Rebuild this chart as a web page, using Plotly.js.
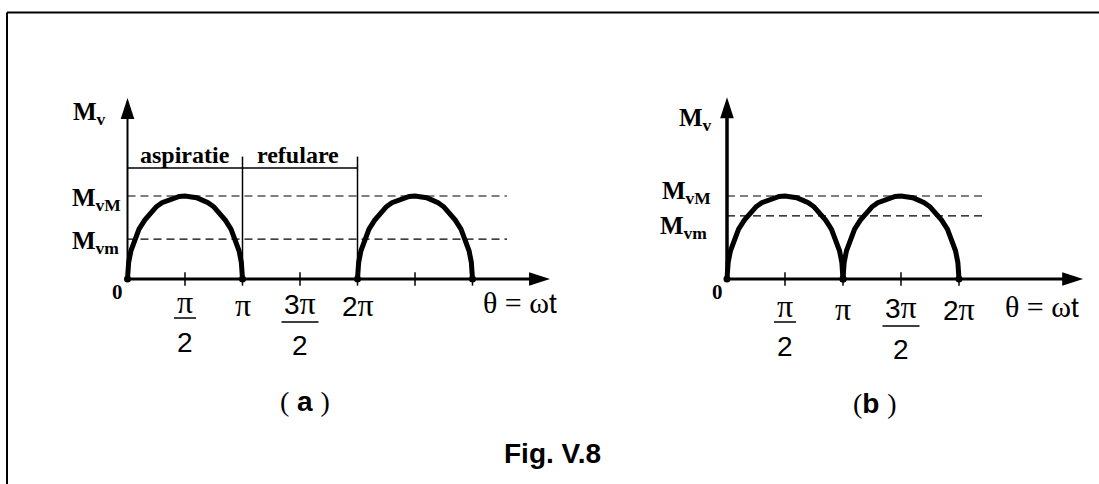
<!DOCTYPE html>
<html>
<head>
<meta charset="utf-8">
<script src="https://cdn.plot.ly/plotly-3.0.1.min.js"></script>
<style>
html,body{margin:0;padding:0;background:#fff;}
#chart{width:1099px;height:484px;}
</style>
</head>
<body>
<div id="chart"></div>
<script>
// ---------- data (angles in units of π, amplitude normalised to MvM = 1) ----------
const arcK = [0, 0.01, 0.03, 0.06, 0.1, 0.15, 0.2, 0.25, 0.3, 0.35, 0.4, 0.45, 0.5,
              0.55, 0.6, 0.65, 0.7, 0.75, 0.8, 0.85, 0.9, 0.94, 0.97, 0.99, 1];
const arcM = [0, 0.2, 0.34, 0.47, 0.6, 0.71, 0.8, 0.87, 0.92, 0.95, 0.98, 0.995, 1,
              0.995, 0.98, 0.95, 0.92, 0.87, 0.8, 0.71, 0.6, 0.47, 0.34, 0.2, 0];
const humpStartA = [0, 2];          // (a) aspiratie pulses
const humpStartB = [0, 1];          // (b) two consecutive pulses
const levelsA = [1, 0.48];          // MvM, Mvm  (a)
const levelsB = [1, 0.76];          // MvM, Mvm  (b)
const levelLabels = ['M<sub>vM</sub>', 'M<sub>vm</sub>'];
const ticksA = [0.5, 1, 1.5, 2, 2.5, 3];
const ticksB = [0.5, 1, 1.5, 2];
const tickLabelK = [0.5, 1, 1.5, 2];
const tickLabelNum = ['π', 'π', '3π', '2π'];
const tickLabelDen = ['2', '', '2', ''];
const phaseBounds = [0, 1, 2];
const phaseLabels = ['aspiratie', 'refulare'];
const axisLabelY = 'M<sub>v</sub>';
const axisLabelX = '<span style="font-family:Liberation Serif;font-size:30px">θ = ω</span>t';
const figTitle = 'Fig. V.8';

// ---------- geometry ----------
const W = 1099, H = 484;
const X0A = 127.5, UA = 115, X0B = 727, UB = 116, Y0 = 279, UY = 83;
const px = v => v / W;
const py = v => 1 - v / H;
const SERIF = 'Liberation Serif, Times New Roman, serif';
const SANS = 'Liberation Sans, Arial, sans-serif';
const piSpan = s => s.replace('π', '<span style="font-family:Liberation Serif;font-size:32px">π</span>');

function humps(starts) {
  const x = [], y = [];
  starts.forEach(s => { arcK.forEach((k, i) => { x.push(s + k); y.push(arcM[i]); }); x.push(null); y.push(null); });
  return {x, y};
}
function feet(starts) {
  const x = [], y = [];
  starts.forEach(s => { x.push(s, s + 1); y.push(0, 0); });
  return {x, y};
}
function levelLines(levels, xend) {
  const x = [], y = [];
  levels.forEach(l => { x.push(0, xend, null); y.push(l, l, null); });
  return {x, y};
}
function tickLines(ticks, h) {
  const x = [], y = [];
  ticks.forEach(t => { x.push(t, t, null); y.push(-h, h, null); });
  return {x, y};
}
const noHover = {hoverinfo: 'skip', showlegend: false};

function axes(xa, xTip, yTip, unit, wx, wy) {
  const out = [];
  out.push(Object.assign({x: [0, xTip - 12 / unit], y: [0, 0], xaxis: xa, yaxis: 'y', mode: 'lines',
    line: {color: '#000', width: wx}}, noHover));
  out.push(Object.assign({x: [0, 0], y: [0, yTip - 12 / UY], xaxis: xa, yaxis: 'y', mode: 'lines',
    line: {color: '#000', width: wy}}, noHover));
  out.push(Object.assign({x: [xTip, 0], y: [0, yTip], xaxis: xa, yaxis: 'y', mode: 'markers',
    marker: {symbol: 'arrow', size: 22, angle: [90, 0], color: '#000', line: {width: 0}}}, noHover));
  return out;
}

const traces = [];
// (a)
const la = levelLines(levelsA, 3.30);
traces.push(Object.assign({x: la.x, y: la.y, xaxis: 'x', yaxis: 'y', mode: 'lines',
  line: {color: '#000', width: 1.2, dash: '8px,5px'}}, noHover));
const ta = tickLines(ticksA, 0.08);
traces.push(Object.assign({x: ta.x, y: ta.y, xaxis: 'x', yaxis: 'y', mode: 'lines',
  line: {color: '#000', width: 1.5}}, noHover));
const bx = [phaseBounds[0], phaseBounds[2], null], by = [1.337, 1.337, null];
phaseBounds.slice(1).forEach(b => { bx.push(b, b, null); by.push(0, 1.475, null); });
traces.push(Object.assign({x: bx, y: by, xaxis: 'x', yaxis: 'y', mode: 'lines',
  line: {color: '#000', width: 1.5}}, noHover));
axes('x', 3.674, 2.18, UA, 3, 2).forEach(t => traces.push(t));
const ha = humps(humpStartA);
traces.push(Object.assign({x: ha.x, y: ha.y, xaxis: 'x', yaxis: 'y', mode: 'lines',
  line: {color: '#000', width: 5}}, noHover));
const fa = feet(humpStartA);
traces.push(Object.assign({x: fa.x, y: fa.y, xaxis: 'x', yaxis: 'y', mode: 'markers',
  marker: {color: '#000', size: 7}}, noHover));
// (b)
const lb = levelLines(levelsB, 2.21);
traces.push(Object.assign({x: lb.x, y: lb.y, xaxis: 'x2', yaxis: 'y', mode: 'lines',
  line: {color: '#000', width: 1.2, dash: '8px,5px'}}, noHover));
const tb = tickLines(ticksB, 0.08);
traces.push(Object.assign({x: tb.x, y: tb.y, xaxis: 'x2', yaxis: 'y', mode: 'lines',
  line: {color: '#000', width: 1.5}}, noHover));
axes('x2', 3.07, 2.19, UB, 3, 3.5).forEach(t => traces.push(t));
const hb = humps(humpStartB);
traces.push(Object.assign({x: hb.x, y: hb.y, xaxis: 'x2', yaxis: 'y', mode: 'lines',
  line: {color: '#000', width: 5}}, noHover));
const fb = feet(humpStartB);
traces.push(Object.assign({x: fb.x, y: fb.y, xaxis: 'x2', yaxis: 'y', mode: 'markers',
  marker: {color: '#000', size: 7}}, noHover));

// ---------- annotations ----------
const ann = [];
function label(text, xref, x, yPix, size, family, xanchor) {
  ann.push({xref: xref, yref: 'paper', x: x, y: py(yPix), text: text, showarrow: false,
    xanchor: xanchor || 'center', yanchor: 'middle', font: {family: family, size: size, color: '#000'}});
}
label('<b>' + axisLabelY + '</b>', 'paper', px(108), 113, 25, SERIF, 'right');
label('<b>' + axisLabelY + '</b>', 'paper', px(714), 119, 25, SERIF, 'right');
label('<b>' + levelLabels[0] + '</b>', 'paper', px(123), 199, 25, SERIF, 'right');
label('<b>' + levelLabels[1] + '</b>', 'paper', px(121), 242, 25, SERIF, 'right');
label('<b>' + levelLabels[0] + '</b>', 'paper', px(713), 193, 25, SERIF, 'right');
label('<b>' + levelLabels[1] + '</b>', 'paper', px(709), 227, 25, SERIF, 'right');
label('<b>0</b>', 'paper', px(117.5), 292, 21, SERIF);
label('<b>0</b>', 'paper', px(717.5), 292, 21, SERIF);
label('<b>' + phaseLabels[0] + '</b>', 'x', (phaseBounds[0] + phaseBounds[1]) / 2, 155, 24, SERIF);
label('<b>' + phaseLabels[1] + '</b>', 'x', (phaseBounds[1] + phaseBounds[2]) / 2 - 0.015, 155, 24, SERIF);

const shapes = [];
function tickLabels(xref, unit, dy) {
  tickLabelK.forEach((k, i) => {
    if (tickLabelDen[i]) {
      const big = tickLabelNum[i].length > 1;
      label(piSpan(tickLabelNum[i]), xref, k, 302 + dy + (big ? 1 : 0), 28, SANS);
      label(tickLabelDen[i], xref, k, 342 + dy + (big ? 3 : 0), 28, SANS);
      const hw = (big ? 18.5 : 11) / unit;
      const yb = py(318 + dy + (big ? 4 : 0));
      shapes.push({type: 'line', xref: xref, yref: 'paper', x0: k - hw, x1: k + hw, y0: yb, y1: yb,
        line: {color: '#000', width: 1.5}});
    } else {
      label(piSpan(tickLabelNum[i]), xref, k, 305 + dy, 28, SANS);
    }
  });
}
tickLabels('x', UA, 0);
tickLabels('x2', UB, 4);
label(axisLabelX, 'paper', px(520), 302, 28, SANS);
label(axisLabelX, 'paper', px(1042), 306, 28, SANS);
label('<span style="font-family:Liberation Serif">(</span> <b>a</b> <span style="font-family:Liberation Serif">)</span>', 'paper', px(305), 401, 28, SANS);
label('<span style="font-family:Liberation Serif">(</span><b>b</b> <span style="font-family:Liberation Serif">)</span>', 'paper', px(875), 403, 28, SANS);
label('<b>' + figTitle + '</b>', 'paper', px(552), 453, 28, SANS);

// frame (top and left edges visible)
shapes.push({type: 'line', xref: 'paper', yref: 'paper', x0: px(7), x1: 1, y0: py(12.5), y1: py(12.5), line: {color: '#000', width: 2}});
shapes.push({type: 'line', xref: 'paper', yref: 'paper', x0: px(7), x1: px(7), y0: py(12.5), y1: 0, line: {color: '#000', width: 2}});

const layout = {
  width: W, height: H,
  margin: {l: 0, r: 0, t: 0, b: 0, pad: 0},
  paper_bgcolor: '#fff', plot_bgcolor: '#fff',
  showlegend: false,
  xaxis: {domain: [0, 1], range: [-X0A / UA, (W - X0A) / UA], visible: false, fixedrange: true},
  xaxis2: {domain: [0, 1], range: [-X0B / UB, (W - X0B) / UB], visible: false, fixedrange: true, overlaying: 'x', anchor: 'y'},
  yaxis: {domain: [0, 1], range: [(Y0 - H) / UY, Y0 / UY], visible: false, fixedrange: true},
  annotations: ann,
  shapes: shapes
};
Plotly.newPlot('chart', traces, layout, {staticPlot: true, displayModeBar: false});
</script>
</body>
</html>
